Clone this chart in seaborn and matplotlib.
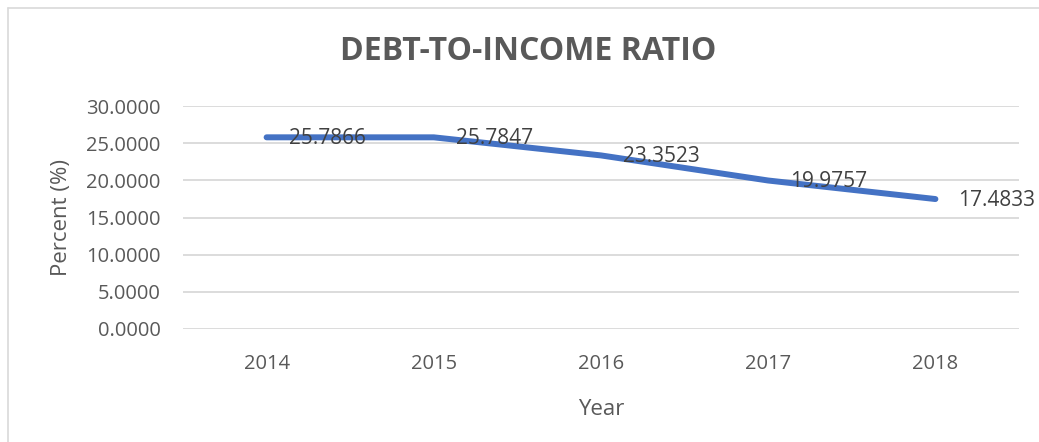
import matplotlib
matplotlib.use("Agg")
import matplotlib.pyplot as plt
import seaborn as sns
import pandas as pd
from matplotlib.lines import Line2D

years = ["2014", "2015", "2016", "2017", "2018"]
ratio = [25.7866, 25.7847, 23.3523, 19.9757, 17.4833]
y_ticks = [0, 5, 10, 15, 20, 25, 30]

sns.set_theme(style="white")
plt.rcParams["font.family"] = ["Open Sans", "DejaVu Sans"]

TEXT = "#595959"
GRID = "#D9D9D9"
LINE = "#4472C4"

df = pd.DataFrame({"Year": years, "Ratio": ratio})
df["pos"] = range(len(years))

fig = plt.figure(figsize=(10.39, 4.42), dpi=100)
ax = fig.add_axes([183 / 1039, 1 - 329 / 442, 836 / 1039, 223 / 442])

sns.lineplot(data=df, x="pos", y="Ratio", ax=ax, color=LINE, linewidth=4.3,
             solid_capstyle="round", solid_joinstyle="round")

for x, v in zip(df["pos"], df["Ratio"]):
    ax.annotate(f"{v:.4f}", (x, v), xytext=(16, -1), textcoords="offset points",
                ha="left", va="center", fontsize=15, color="#404040",
                annotation_clip=False)

ax.set_xlim(-0.5, len(years) - 0.5)
ax.set_ylim(0, 30)
ax.set_yticks(y_ticks)
ax.set_yticklabels([f"{t:.4f}" for t in y_ticks])
ax.set_xticks(df["pos"])
ax.set_xticklabels(years)
ax.tick_params(axis="both", colors=TEXT, labelsize=14.5, length=0)
ax.tick_params(axis="y", pad=16)
ax.tick_params(axis="x", pad=18)
ax.grid(axis="y", color=GRID, linewidth=1.3)
ax.set_axisbelow(True)
for s in ax.spines.values():
    s.set_visible(False)

ax.set_xlabel("Year", fontsize=16, color=TEXT, labelpad=18)
ax.set_ylabel("Percent (%)", fontsize=16, color=TEXT, labelpad=10)

fig.text(528 / 1039, 1 - 52 / 442, "DEBT-TO-INCOME RATIO", ha="center", va="center",
         fontsize=23, fontweight="bold", color=TEXT)

# chart-area frame: top and left edges
x0, y0 = 7.5 / 1039, 1 - 7.5 / 442
fig.add_artist(Line2D([x0, 1.0], [y0, y0], transform=fig.transFigure,
                      color="#D9D9D9", linewidth=1.2))
fig.add_artist(Line2D([x0, x0], [0.0, y0], transform=fig.transFigure,
                      color="#D9D9D9", linewidth=1.2))

fig.savefig("out.png", dpi=100, facecolor="white")
